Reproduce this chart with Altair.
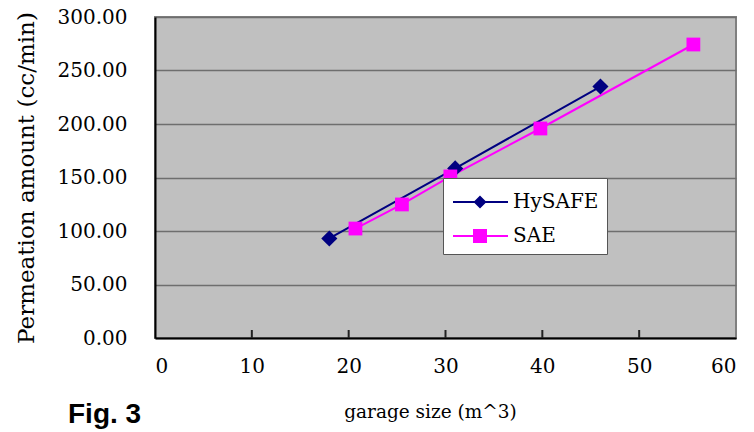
import altair as alt
import pandas as pd

# Data
hysafe_x = [18.0, 31.0, 46.0]
hysafe_y = [93.0, 158.5, 235.0]
sae_x = [20.7, 25.5, 30.5, 39.8, 55.6]
sae_y = [102.3, 124.8, 151.0, 195.8, 274.3]
series_names = ["HySAFE", "SAE"]
series_colors = ["#000080", "#FF00FF"]
x_ticks = [0, 10, 20, 30, 40, 50, 60]
y_ticks = [0, 50, 100, 150, 200, 250, 300]

df = pd.DataFrame(
    {"size": hysafe_x + sae_x,
     "amount": hysafe_y + sae_y,
     "series": ["HySAFE"] * len(hysafe_x) + ["SAE"] * len(sae_x)}
)
ticks_df = pd.DataFrame({"size": x_ticks[1:-1]})

SERIF = "DejaVu Serif"
color_scale = alt.Scale(domain=series_names, range=series_colors)
# legend symbols: a (filled, thin) line segment with the marker in the middle
legend_shapes = [
    "M-0.875,-0.06L2.5625,-0.06L2.5625,0.06L-0.875,0.06Z"
    "M0.40625,0L0.8125,-0.40625L1.21875,0L0.8125,0.40625Z",
    "M-0.875,-0.06L2.5625,-0.06L2.5625,0.06L-0.875,0.06Z"
    "M0.375,-0.4375L1.25,-0.4375L1.25,0.4375L0.375,0.4375Z",
]
shape_scale = alt.Scale(domain=series_names, range=legend_shapes)

x_enc = alt.X("size:Q", scale=alt.Scale(domain=[0, 60], nice=False),
              axis=alt.Axis(values=x_ticks, title="garage size (m^3)",
                            grid=False, ticks=False,
                            labelFont=SERIF, labelFontSize=20, labelColor="black",
                            labelPadding=18,
                            domainColor="black", domainWidth=2,
                            titleFont=SERIF, titleFontSize=18.5, titleFontWeight="normal",
                            titleColor="black", titlePadding=26, titleX=275))
y_enc = alt.Y("amount:Q", scale=alt.Scale(domain=[0, 300], nice=False),
              axis=alt.Axis(values=y_ticks, format=".2f",
                            title="Permeation amount (cc/min)", grid=True,
                            gridColor="#6e6e6e", gridWidth=1.5, ticks=False,
                            labelFont=SERIF, labelFontSize=20, labelColor="black",
                            labelPadding=28, domainColor="black", domainWidth=2,
                            titleFont=SERIF, titleFontSize=23, titleFontWeight="normal",
                            titleColor="black", titlePadding=19))

leg = alt.Legend(title=None, orient="none", legendX=288, legendY=161,
                 fillColor="white", strokeColor="#555555", padding=8,
                 labelFont=SERIF, labelFontSize=20, labelColor="black",
                 labelOffset=30, rowPadding=8, symbolStrokeWidth=0,
                 symbolSize=1024, symbolOpacity=1)

base = alt.Chart(df)
h = base.transform_filter(alt.datum.series == "HySAFE")
s = base.transform_filter(alt.datum.series == "SAE")

line_h = h.mark_line(strokeWidth=2, color=series_colors[0]).encode(x=x_enc, y=y_enc)
line_s = s.mark_line(strokeWidth=2, color=series_colors[1]).encode(x="size:Q", y="amount:Q")

xticks = alt.Chart(ticks_df).mark_rule(color="#222222", strokeWidth=2).encode(
    x="size:Q", y=alt.value(321), y2=alt.value(313))

pts_h = h.mark_point(shape="diamond", filled=True, size=260, opacity=1,
                     color=series_colors[0]).encode(x="size:Q", y="amount:Q")
pts_s = s.mark_point(shape="square", filled=True, size=190, opacity=1,
                     color=series_colors[1]).encode(x="size:Q", y="amount:Q")

legend_layer = base.mark_point(filled=True).encode(
    x="size:Q", y="amount:Q",
    size=alt.value(0),
    color=alt.Color("series:N", scale=color_scale, legend=leg),
    shape=alt.Shape("series:N", scale=shape_scale, legend=leg),
)

fig = alt.Chart(pd.DataFrame({"t": ["Fig. 3"]})).mark_text(
    font="Liberation Sans", fontSize=28, fontWeight="bold", align="left",
    baseline="alphabetic", color="black", clip=False).encode(
    text="t:N", x=alt.value(-87), y=alt.value(406))

chart = alt.layer(line_h, line_s, xticks, pts_h, pts_s, legend_layer, fig).properties(
    width=581, height=321,
    autosize=alt.AutoSizeParams(type="none"),
    padding={"left": 147, "top": 9, "right": 10, "bottom": 94},
    background="white",
).configure_view(fill="#C0C0C0", stroke="#808080", strokeWidth=2)

chart.save("out.html", embed_options={"renderer": "svg", "actions": False})
